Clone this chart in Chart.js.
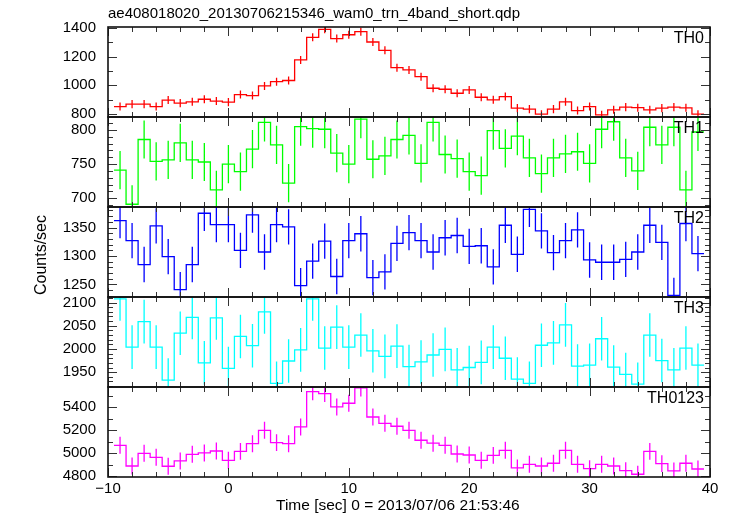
<!DOCTYPE html>
<html>
<head>
<meta charset="utf-8">
<script src="https://cdn.jsdelivr.net/npm/chart.js@4.4.0/dist/chart.umd.min.js"></script>
<style>
  html, body { margin: 0; padding: 0; background: #fff; }
  #wrap { width: 731px; height: 516px; position: relative; }
</style>
</head>
<body>
<div id="wrap"><canvas id="myChart" width="731" height="516"></canvas></div>
<script>
// bin centres (sec), 1 s bins
let times = [-9,-8,-7,-6,-5,-4,-3,-2,-1,0,1,2,3,4,5,6,7,8,9,10,11,12,13,14,15,16,17,18,19,20,21,22,23,24,25,26,27,28,29,30,31,32,33,34,35,36,37,38,39];
let binHalf = 0.5;

let th0 = [851,868,868,851,896,875,884,902,889,
           882,935,928,995,1025,1033,1177,1335,1391,1326,
           1353,1374,1302,1244,1123,1107,1060,979,972,944,
           967,916,898,921,840,833,798,833,884,823,
           851,793,828,847,843,828,840,847,842,798];
let th1 = [741,691,786,754,756,781,756,753,712,
           750,739,772,811,778,722,805,802,801,766,
           750,816,757,762,786,792,751,811,764,758,
           739,733,799,773,791,759,736,759,765,768,
           751,801,812,759,740,804,778,804,712,797];
let th2 = [1362,1327,1285,1353,1299,1241,1285,1375,1355,
           1355,1310,1372,1307,1355,1351,1248,1291,1326,1264,
           1327,1339,1262,1272,1322,1341,1327,1307,1332,1336,
           1317,1318,1281,1354,1303,1382,1344,1306,1327,1346,
           1293,1289,1289,1294,1307,1354,1324,1231,1357,1304];
let th3 = [2108,2004,2059,2004,1933,2034,2068,1970,2067,
           1958,2027,2007,2080,1926,1974,1998,2108,2002,2047,
           2004,2030,1996,1984,2006,1962,1972,1987,1999,1955,
           1960,1971,2004,1980,1935,1926,2008,2013,2052,1963,
           1965,2022,1961,1945,1924,2030,1975,1955,2002,1965];
let th0123 = [5068,4887,4998,4963,4885,4931,4989,5001,5018,
              4937,5015,5082,5199,5091,5082,5228,5536,5519,5403,
              5435,5569,5315,5260,5234,5199,5112,5086,5068,4992,
              4983,4937,4980,5024,4870,4902,4887,4911,5024,4902,
              4864,4902,4887,4846,4815,5015,4908,4844,4911,4861];
// 1-sigma errors (roughly constant per band)
let errs = [28, 28, 31, 47, 74];
let names = ['TH0', 'TH1', 'TH2', 'TH3', 'TH0123'];
let xTicks = [-10, 0, 10, 20, 30, 40];

const FONT = "'Liberation Sans', Arial, sans-serif";

let panels = [
  {values: th0,    color: 'rgb(255,0,0)',   min: 778,  max: 1407, minor: 100, major: 200},
  {values: th1,    color: 'rgb(0,255,0)',   min: 687,  max: 819,  minor: 10,  major: 50},
  {values: th2,    color: 'rgb(0,0,255)',   min: 1228, max: 1386, minor: 10,  major: 50},
  {values: th3,    color: 'rgb(0,255,255)', min: 1918, max: 2112, minor: 10,  major: 50},
  {values: th0123, color: 'rgb(255,0,255)', min: 4791, max: 5577, minor: 100, major: 200}
];

function stepsOf(lo, hi, step) {
  let out = [];
  for (let v = Math.ceil(lo / step) * step; v <= hi; v += step) out.push(v);
  return out;
}

let scales = {
  x: {
    type: 'linear', min: -10, max: 40,
    grid: {display: false, drawTicks: false}, border: {display: false},
    ticks: {color: '#000', font: {family: FONT, size: 15}, padding: 3, maxRotation: 0, autoSkip: false,
      callback: v => v < 0 ? '\u2212' + Math.abs(v) : String(v)},
    afterBuildTicks: s => { s.ticks = xTicks.map(v => ({value: v})); },
    afterFit: s => { s.height = 39; }
  }
};
let datasets = [];
panels.forEach((p, i) => {
  scales['y' + i] = {
    type: 'linear', position: 'left', stack: 'panels', stackWeight: 1, weight: panels.length - i,
    min: p.min, max: p.max,
    grid: {display: false, drawTicks: false}, border: {display: false},
    ticks: {color: '#000', font: {family: FONT, size: 15}, padding: 12, autoSkip: false, callback: v => String(v)},
    afterBuildTicks: s => { s.ticks = stepsOf(p.min, p.max, p.major).map(v => ({value: v})); },
    afterFit: s => { s.width = 108; }
  };
  datasets.push({
    label: names[i],
    yAxisID: 'y' + i,
    data: times.flatMap((t, k) => [{x: t - binHalf, y: p.values[k]}, {x: t + binHalf, y: p.values[k]}]),
    borderColor: p.color,
    borderWidth: 1.3,
    pointRadius: 0,
    tension: 0,
    fill: false
  });
});

// vertical error bars, frames, inward ticks, labels
const qdpLook = {
  id: 'qdpLook',
  afterDatasetsDraw(chart) {
    const ctx = chart.ctx, xs = chart.scales.x;
    panels.forEach((p, i) => {
      const ys = chart.scales['y' + i];
      ctx.save();
      ctx.beginPath();
      ctx.rect(xs.left, ys.top, xs.right - xs.left, ys.bottom - ys.top);
      ctx.clip();
      ctx.strokeStyle = p.color;
      ctx.lineWidth = 1.3;
      ctx.beginPath();
      times.forEach((t, k) => {
        const x = xs.getPixelForValue(t);
        ctx.moveTo(x, ys.getPixelForValue(p.values[k] - errs[i]));
        ctx.lineTo(x, ys.getPixelForValue(p.values[k] + errs[i]));
      });
      ctx.stroke();
      ctx.restore();
    });
  },
  afterDraw(chart) {
    const ctx = chart.ctx, xs = chart.scales.x;
    ctx.save();
    panels.forEach((p, i) => {
      const ys = chart.scales['y' + i];
      const L = xs.left, R = xs.right, T = ys.top, B = ys.bottom;
      ctx.strokeStyle = '#333';
      ctx.lineWidth = 1;
      ctx.beginPath();
      stepsOf(-10, 40, 2).forEach(v => {
        const x = Math.round(xs.getPixelForValue(v)) + 0.5;
        const len = v % 10 === 0 ? 9 : 5;
        ctx.moveTo(x, T); ctx.lineTo(x, T + len);
        ctx.moveTo(x, B); ctx.lineTo(x, B - len);
      });
      stepsOf(p.min, p.max, p.minor).forEach(v => {
        const y = Math.round(ys.getPixelForValue(v)) + 0.5;
        const len = v % p.major === 0 ? 9 : 5;
        ctx.moveTo(L, y); ctx.lineTo(L + len, y);
        ctx.moveTo(R, y); ctx.lineTo(R - len, y);
      });
      ctx.stroke();
      ctx.strokeStyle = '#111';
      ctx.lineWidth = 1.6;
      ctx.strokeRect(L, T, R - L, B - T);
      ctx.fillStyle = '#000';
      ctx.font = '16px ' + FONT;
      ctx.textAlign = 'right';
      ctx.textBaseline = 'alphabetic';
      ctx.fillText(names[i], R - 6, T + 16);
    });
    ctx.fillStyle = '#000';
    ctx.font = '15px ' + FONT;
    ctx.textAlign = 'left';
    ctx.fillText('ae408018020_20130706215346_wam0_trn_4band_short.qdp', 108, 18);
    ctx.font = '15.5px ' + FONT;
    ctx.fillText('Time [sec] 0 = 2013/07/06 21:53:46', 276, 510);
    ctx.font = '16px ' + FONT;
    ctx.translate(46, 255);
    ctx.rotate(-Math.PI / 2);
    ctx.textAlign = 'center';
    ctx.fillText('Counts/sec', 0, 0);
    ctx.restore();
  }
};

const ctx = document.getElementById('myChart');
let myChart = new Chart(ctx, {
  type: 'line',
  data: {datasets: datasets},
  options: {
    responsive: false,
    animation: false,
    devicePixelRatio: 1,
    layout: {padding: {top: 27, right: 21, bottom: 0, left: 0}},
    plugins: {legend: {display: false}, tooltip: {enabled: false}},
    scales: scales
  },
  plugins: [qdpLook]
});
</script>
</body>
</html>
